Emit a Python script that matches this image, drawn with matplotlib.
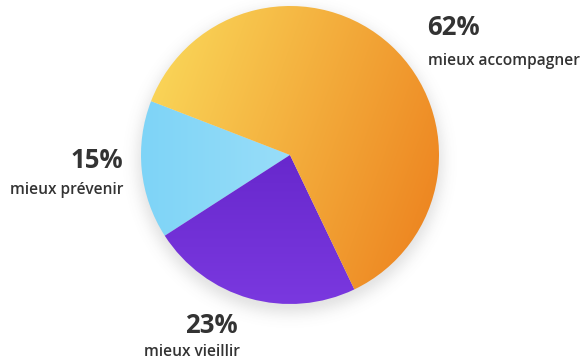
import numpy as np
import matplotlib.pyplot as plt
from matplotlib.colors import LinearSegmentedColormap

# data
labels = ['mieux prévenir', 'mieux vieillir', 'mieux accompagner']
values = [15, 23, 62]
pct_labels = ['15%', '23%', '62%']

# gradient colours (start, end, direction angle in deg)
grads = [('#7ED4F7', '#B3E7FA', 0),
         ('#5518BA', '#7A38DF', -90),
         ('#FBDE5E', '#EC7D1B', -20)]

W, H = 586, 360
cx, cy, r = 290, 205, 149

fig = plt.figure(figsize=(W / 100, H / 100), dpi=100)
ax = fig.add_axes([0, 0, 1, 1])

wedges, _ = ax.pie(values, startangle=158.8, counterclock=True,
                   center=(cx, cy), radius=r, frame=True,
                   wedgeprops=dict(linewidth=0))

# soft shadow under the pie
xs = np.linspace(0, W, W)
ys = np.linspace(0, H, H)
X, Y = np.meshgrid(xs, ys)
d = np.hypot(X - cx, Y - (cy - 6))
a = 0.16 * np.exp(-np.clip(d - r + 6, 0, None) ** 2 / (2 * 9 ** 2))
shadow = np.zeros((H, W, 4))
shadow[..., 0:3] = 0.35
shadow[..., 3] = a
ax.imshow(shadow, extent=(0, W, 0, H), origin='lower', zorder=0)

# gradient fills clipped by wedges
gx = np.linspace(cx - r, cx + r, 300)
gy = np.linspace(cy - r, cy + r, 300)
GX, GY = np.meshgrid(gx, gy)
for w, (c0, c1, ang) in zip(wedges, grads):
    th = np.deg2rad(ang)
    t = (GX - cx) * np.cos(th) + (GY - cy) * np.sin(th)
    t = (t - t.min()) / (t.max() - t.min())
    cmap = LinearSegmentedColormap.from_list('g', [c0, c1])
    w.set_facecolor('none')
    im = ax.imshow(t, cmap=cmap, extent=(cx - r, cx + r, cy - r, cy + r),
                   origin='lower', zorder=2, interpolation='bilinear')
    im.set_clip_path(w)

ax.set_xlim(0, W)
ax.set_ylim(0, H)
ax.set_aspect('equal')
ax.axis('off')

fam = ['Open Sans', 'DejaVu Sans']
col = '#333333'
pfs, lfs = 18.5, 11.2
# 15%
ax.text(123, H - 168, pct_labels[0], ha='right', va='baseline', fontsize=pfs,
        fontweight='bold', color=col, family=fam)
ax.text(123, H - 194, labels[0], ha='right', va='baseline', fontsize=lfs,
        fontweight='semibold', color=col, family=fam)
# 23%
ax.text(238, H - 333, pct_labels[1], ha='right', va='baseline', fontsize=pfs,
        fontweight='bold', color=col, family=fam)
ax.text(240, H - 356, labels[1], ha='right', va='baseline', fontsize=lfs,
        fontweight='semibold', color=col, family=fam)
# 62%
ax.text(427, H - 35, pct_labels[2], ha='left', va='baseline', fontsize=pfs,
        fontweight='bold', color=col, family=fam)
ax.text(428, H - 65, labels[2], ha='left', va='baseline', fontsize=lfs,
        fontweight='semibold', color=col, family=fam)

fig.savefig('out.png', dpi=100, facecolor='white')
